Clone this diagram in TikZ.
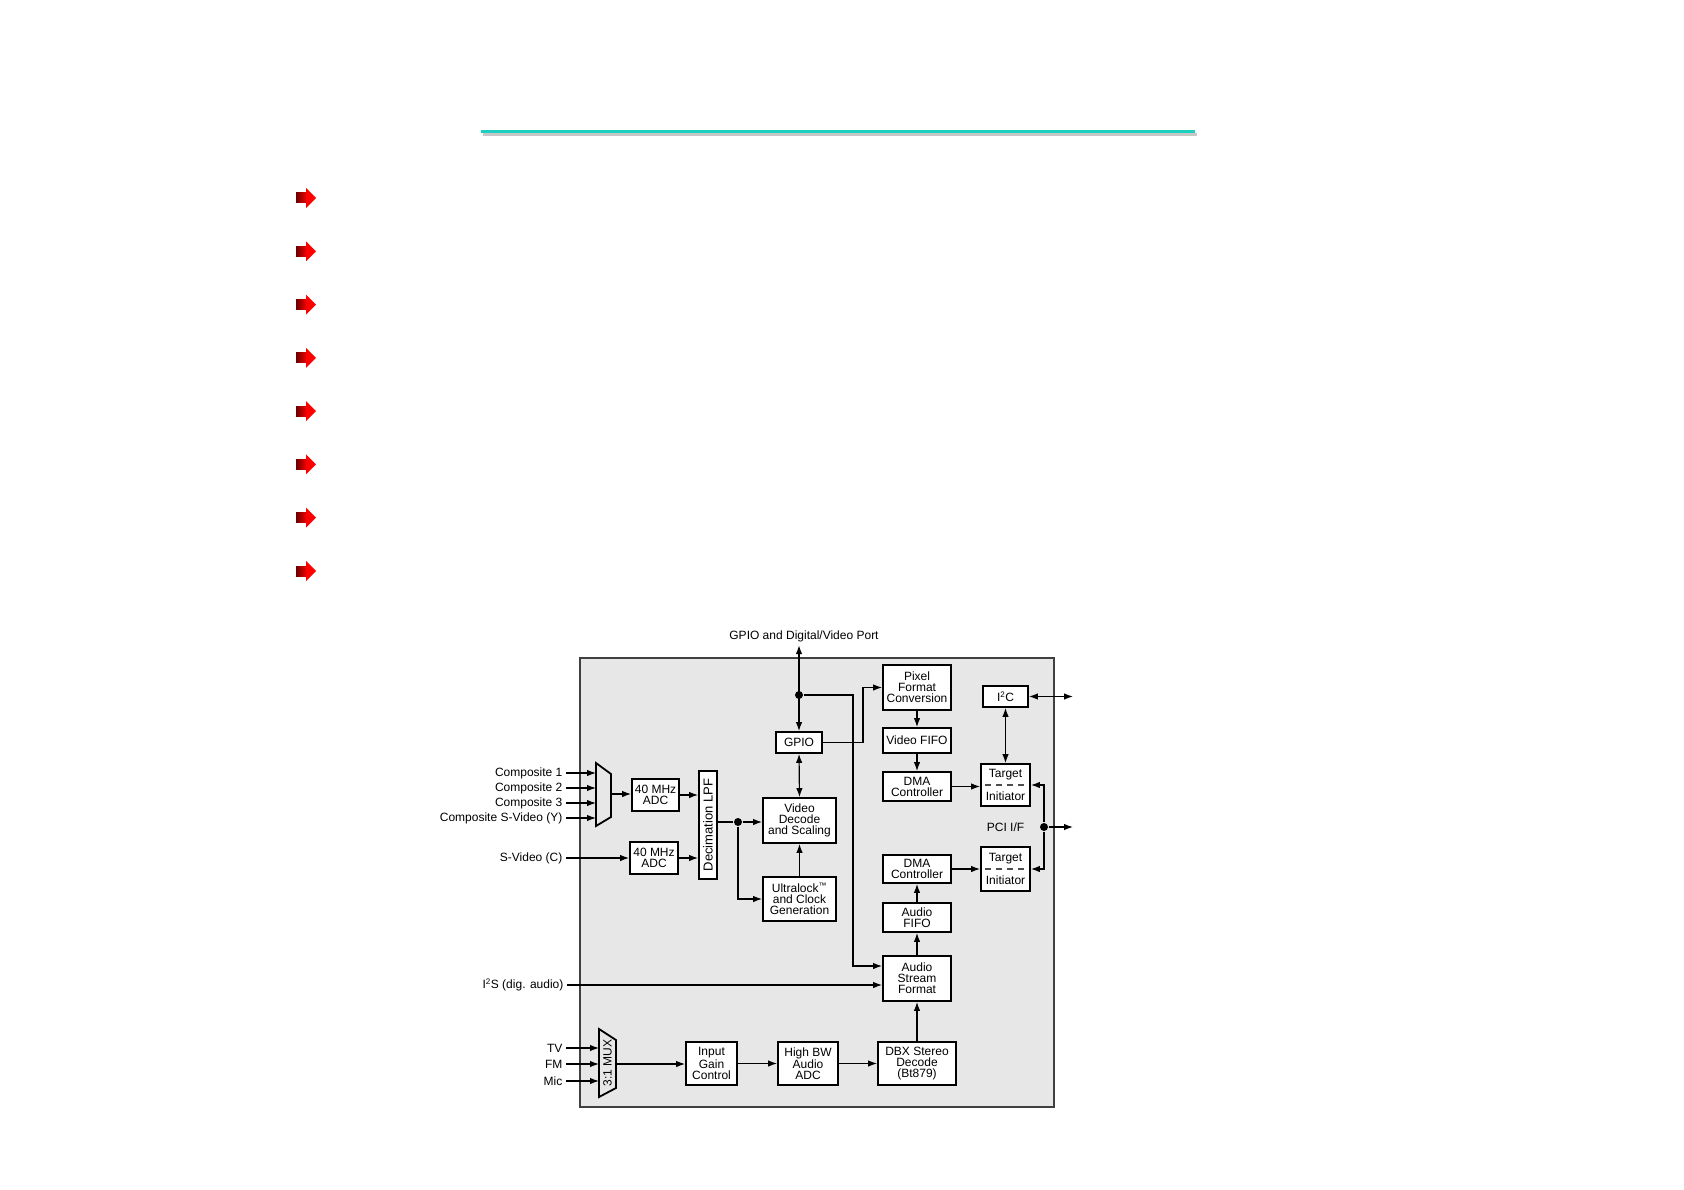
\documentclass[tikz,border=0pt]{standalone}
\usepackage{fontspec}
\usepackage{graphicx}
\setmainfont{Liberation Sans}
\usetikzlibrary{arrows.meta}

\definecolor{slideteal}{RGB}{30,208,192}
\definecolor{chipgray}{RGB}{231,231,231}
\definecolor{bulletdark}{RGB}{105,0,0}

\begin{document}
\begin{tikzpicture}[x=1pt, y=-1pt,
  font=\fontsize{12}{11}\selectfont,
  >={Latex[length=9pt,width=6.5pt]},
  line width=1.2pt,
  blk/.style={draw, line width=1.8pt, fill=white, align=center, inner sep=0pt},
  lbl/.style={inner sep=3pt},
  dot/.style={circle, fill, inner sep=0pt, minimum size=8pt}]

  \useasboundingbox (0,0) rectangle (1684,1190);

  \draw[line width=3pt, black!22] (483,134.5) -- (1197,134.5);
  \draw[line width=3pt, slideteal] (481,132) -- (1195,132);

  \foreach \y in {198,251.3,304.6,357.9,411.1,464.4,517.7,571} {
    \shade[left color=bulletdark, right color=red] (296,\y-5) rectangle (307,\y+5);
    \fill[red] (306,\y-10) -- (316,\y) -- (306,\y+10) -- cycle;
  }

  \draw[fill=chipgray, draw=black!75, line width=1.6pt] (580,658) rectangle (1054,1107);

  \node[blk, minimum width=47, minimum height=32] (adcA) at (655.5,795) {40 MHz\\ADC};
  \node[blk, minimum width=48, minimum height=32] (adcB) at (654,858) {40 MHz\\ADC};
  \node[blk, minimum width=18, minimum height=108, font=\fontsize{13}{13}\selectfont] (lpf) at (708,825) {\rotatebox{90}{Decimation LPF}};
  \node[blk, minimum width=73, minimum height=45] (vds) at (799.5,820.5) {Video\\Decode\\and Scaling};
  \node[blk, minimum width=73, minimum height=44] (ulock) at (799.5,899) {Ultralock\textsuperscript{™}\\and Clock\\Generation};
  \node[blk, minimum width=46, minimum height=21] (gpio) at (799,742.5) {GPIO};
  \node[blk, minimum width=68, minimum height=45] (pfc) at (917,687.5) {Pixel\\Format\\Conversion};
  \node[blk, minimum width=68, minimum height=25] (vfifo) at (917,740.5) {Video FIFO};
  \node[blk, minimum width=68, minimum height=29] (dmaV) at (917,786.5) {DMA\\Controller};
  \node[blk, minimum width=68, minimum height=28] (dmaA) at (917,869) {DMA\\Controller};
  \node[blk, minimum width=68, minimum height=29] (afifo) at (917,917.5) {Audio\\FIFO};
  \node[blk, minimum width=68, minimum height=45] (asf) at (917,978.5) {Audio\\Stream\\Format};
  \node[blk, minimum width=78, minimum height=43] (dbx) at (917,1063.5) {DBX Stereo\\Decode\\(Bt879)};
  \node[blk, minimum width=60, minimum height=43] (hbw) at (808,1063.5) {High BW\\Audio\\ADC};
  \node[blk, minimum width=51, minimum height=43] (igc) at (711.5,1063.5) {Input\\Gain\\Control};
  \node[blk, minimum width=45, minimum height=21] (i2c) at (1005.5,696.5) {I\textsuperscript{2}C};
  \node[blk, minimum width=49, minimum height=42] (tiV) at (1005.5,785) {Target\\[10pt]Initiator};
  \node[blk, minimum width=49, minimum height=44] (tiA) at (1005.5,869) {Target\\[10pt]Initiator};
  \draw[black!70, dash pattern=on 6pt off 5pt] ([xshift=5pt]tiV.west) -- ([xshift=-5pt]tiV.east);
  \draw[black!70, dash pattern=on 6pt off 5pt] ([xshift=5pt]tiA.west) -- ([xshift=-5pt]tiA.east);

  \draw[line width=1.8pt] (596,763) -- (611,774) -- (611,817) -- (596,826) -- cycle;
  \coordinate (muxVout) at (611,794);
  \draw[line width=1.8pt] (599,1029) -- (616,1040) -- (616,1088) -- (599,1097) -- cycle;
  \node[inner sep=0pt] (muxA) at (607.5,1063) {\rotatebox{90}{3:1 MUX}};
  \coordinate (muxAout) at (616,1064);

  \foreach \n/\y/\t in {1/773/Composite 1, 2/788/Composite 2, 3/803/Composite 3, 4/818/Composite S-Video (Y)} {
    \node[lbl, anchor=east] (lc\n) at (566,\y) {\t};
    \coordinate (muxV\n) at (596,\y);
    \draw[->] (lc\n.east) -- (muxV\n);
  }
  \foreach \n/\y/\t in {1/1048/TV, 2/1064/FM, 3/1081/Mic} {
    \node[lbl, anchor=east] (la\n) at (566,\y) {\t};
    \coordinate (muxA\n) at (599,\y);
    \draw[->] (la\n.east) -- (muxA\n);
  }
  \node[lbl, anchor=east] (lsc) at (566,858) {S-Video (C)};
  \node[lbl, anchor=east] (li2s) at (567,985) {I\textsuperscript{2}S (dig. audio)};
  \node[lbl] (port) at (804,636) {GPIO and Digital/Video Port};
  \node[lbl] (pci) at (1005.5,827) {PCI I/F};

  \draw[->] (muxVout) -- (muxVout -| adcA.west);
  \draw[->] (adcA.east) -- (adcA.east -| lpf.west);
  \draw[->] (lsc.east) -- (lsc.east -| adcB.west);
  \draw[->] (adcB.east) -- (adcB.east -| lpf.west);

  \node[dot] (dotL) at (738,822) {};
  \draw (lpf.east |- dotL) -- (dotL);
  \draw[->] (dotL) -- (dotL -| vds.west);
  \draw[->] (dotL) |- (ulock.west);
  \draw[->] (ulock.north) -- (vds.south);
  \draw[<->] (gpio.south) -- (vds.north);

  \node[dot] (dotT) at (799,695) {};
  \draw[<->] (gpio.north) -- (gpio.north |- port.south);
  \coordinate (jog) at (853,966);
  \draw[->] (dotT) -| (jog) -- (jog -| asf.west);
  \draw[->] (gpio.east) -- ++(40,0) |- (pfc.west);

  \draw[->] (pfc) -- (vfifo);
  \draw[->] (vfifo) -- (dmaV);
  \draw[->] (dmaV.east) -- (dmaV.east -| tiV.west);
  \draw[<->] (i2c) -- (tiV);
  \coordinate (i2cOut) at (1073,696.5);
  \draw[<->] (i2c.east) -- (i2cOut);

  \node[dot] (dotP) at (1044,827) {};
  \coordinate (pciOut) at (1073,827);
  \draw[->] (dotP) -- (pciOut);
  \draw[->] (dotP) |- (tiV.east);
  \draw[->] (dotP) |- (tiA.east);
  \draw[->] (dmaA.east) -- (dmaA.east -| tiA.west);

  \draw[->] (li2s.east) -- (li2s.east -| asf.west);
  \draw[->] (dbx) -- (asf);
  \draw[->] (asf) -- (afifo);
  \draw[->] (afifo) -- (dmaA);

  \draw[->] (muxAout) -- (muxAout -| igc.west);
  \draw[->] (igc) -- (hbw);
  \draw[->] (hbw) -- (dbx);

\end{tikzpicture}
\end{document}
